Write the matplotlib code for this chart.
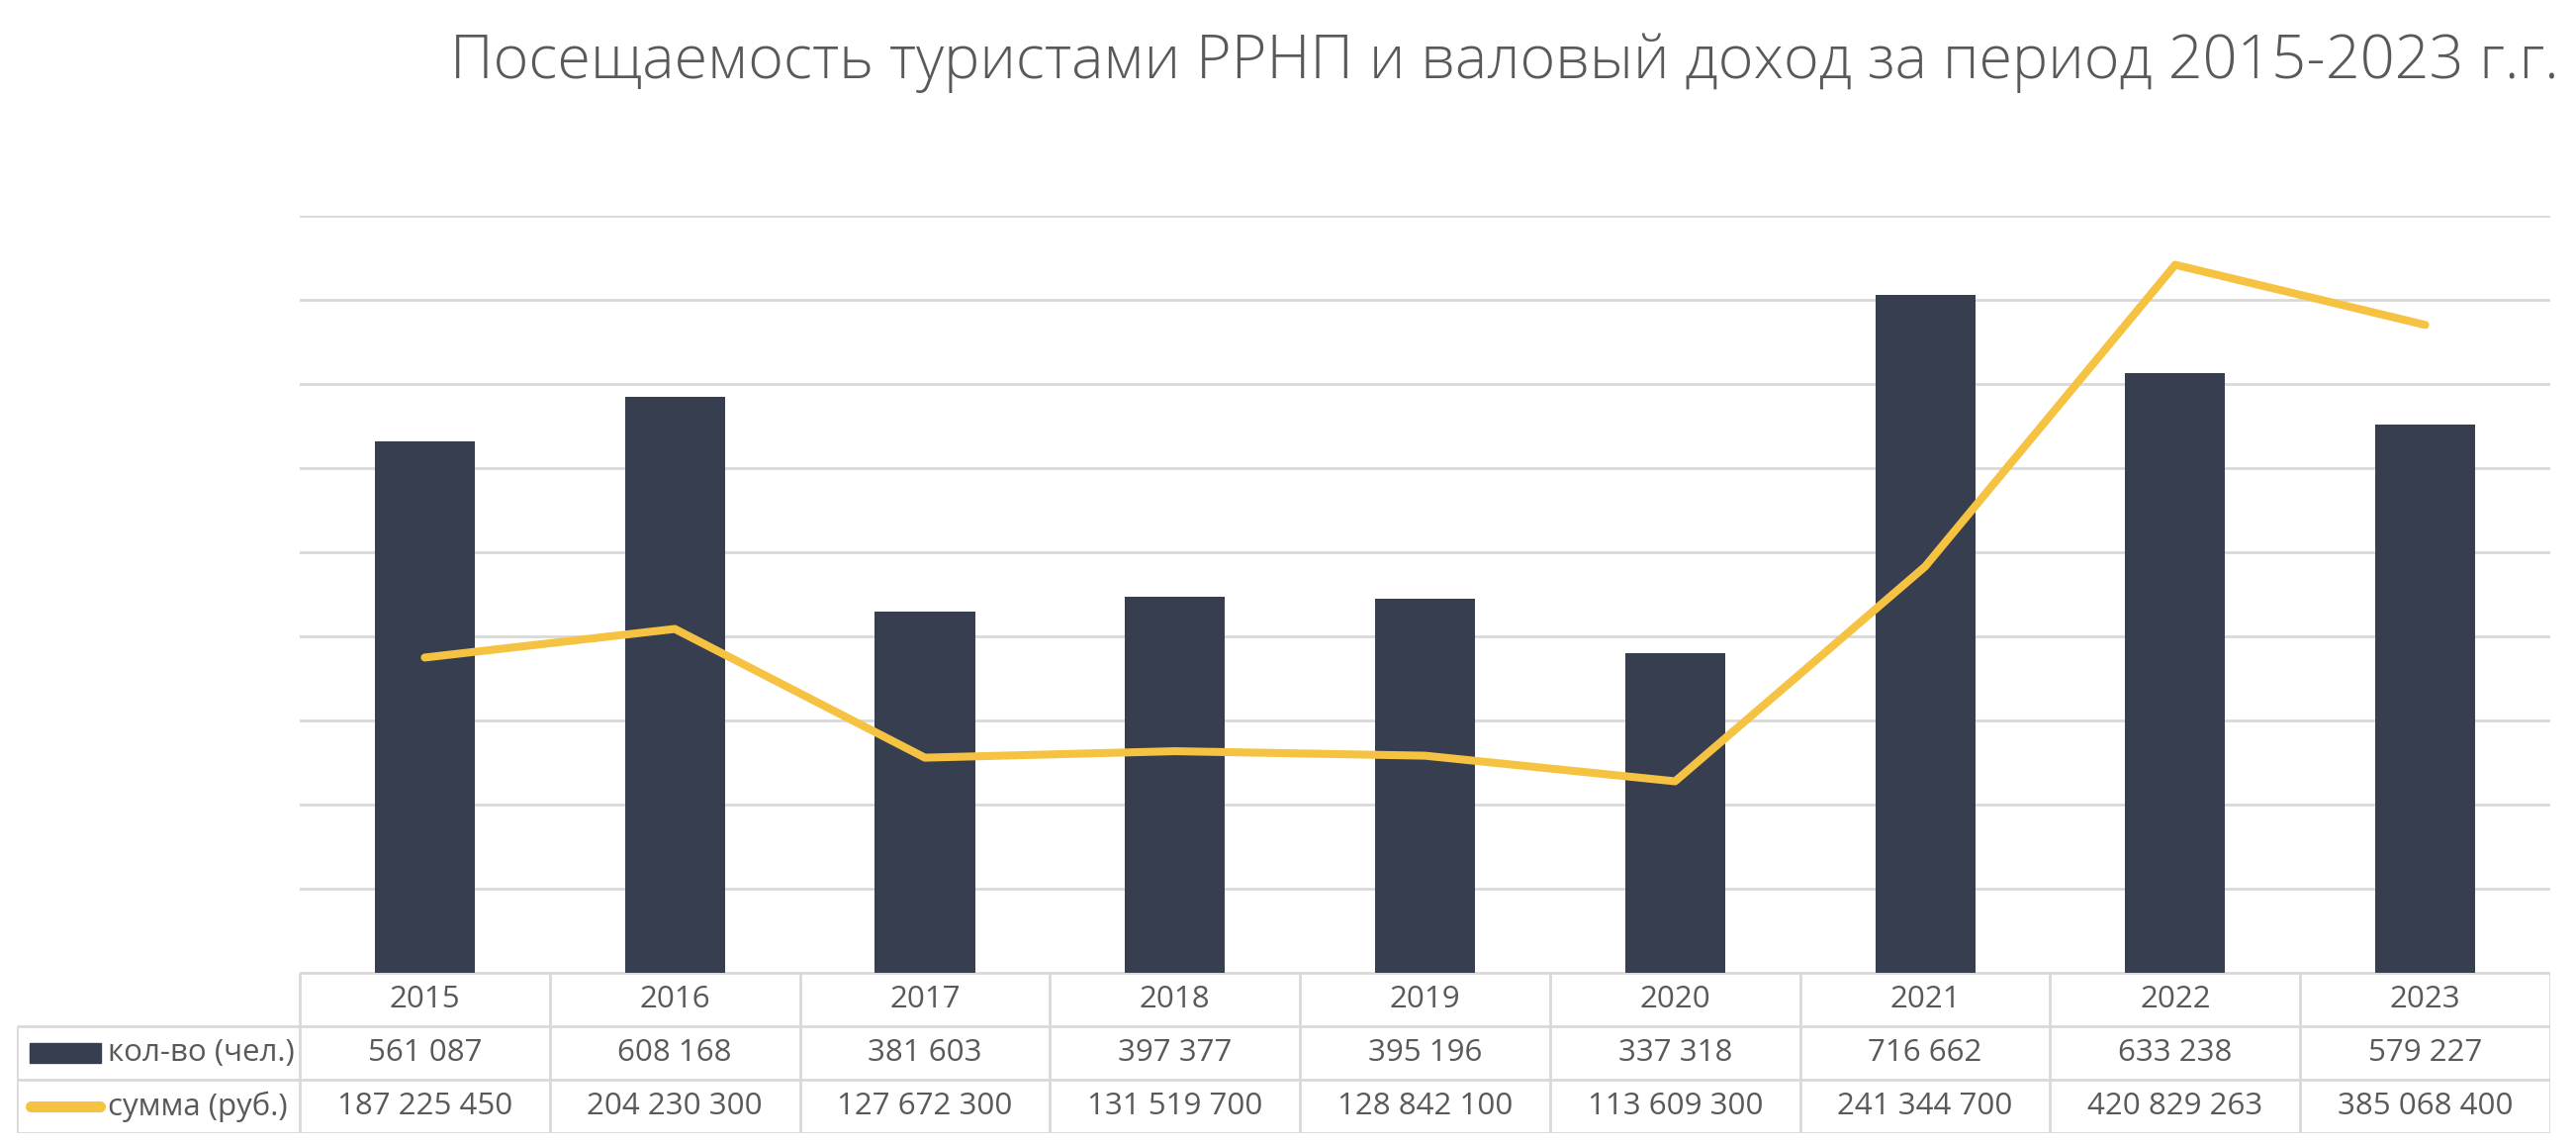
import matplotlib
matplotlib.use("Agg")
from matplotlib import pyplot as plt
from matplotlib.patches import Rectangle
from matplotlib.lines import Line2D
import numpy as np

plt.rcParams['font.family'] = ['Open Sans', 'DejaVu Sans']

# data
years = ['2015', '2016', '2017', '2018', '2019', '2020', '2021', '2022', '2023']
visitors = [561087, 608168, 381603, 397377, 395196, 337318, 716662, 633238, 579227]
revenue = [187225450, 204230300, 127672300, 131519700, 128842100, 113609300,
           241344700, 420829263, 385068400]
row_names = ['кол-во (чел.)', 'сумма (руб.)']
title = 'Посещаемость туристами РРНП и валовый доход за период 2015-2023 г.г.'

bar_color = '#363E50'
line_color = '#F5C242'
grid_color = '#D9D9D9'
text_color = '#595959'

W, H = 2604, 1158
fig = plt.figure(figsize=(W / 100, H / 100), dpi=100)

# plot area in pixels
left_px, right_px = 303, 2578
top_px, base_px = 218, 982.5
rect = [left_px / W, (H - base_px) / H, (right_px - left_px) / W, (base_px - top_px) / H]

x = np.arange(len(years))

# bottom layer: gridlines from the secondary (revenue) scale
ax_grid = fig.add_axes(rect)
ax_grid.set_xlim(-0.5, len(years) - 0.5)
ax_grid.set_ylim(0, 450000000)
ax_grid.set_yticks(np.arange(0, 450000001, 50000000))
ax_grid.yaxis.grid(True, color=grid_color, linewidth=2)
for s in ax_grid.spines.values():
    s.set_visible(False)

# bars on primary scale
ax_bar = ax_grid.twinx()
ax_bar.set_ylim(0, 800000)
ax_bar.bar(x, visitors, width=0.4, color=bar_color)

# line on secondary scale
ax_line = ax_grid.twinx()
ax_line.set_ylim(0, 450000000)
ax_line.plot(x, revenue, color=line_color, linewidth=5.8,
             solid_capstyle='round', solid_joinstyle='round')

# hide all ticks and frames (after twinx, which turns left ticks back on)
for a in (ax_grid, ax_bar, ax_line):
    a.tick_params(left=False, right=False, bottom=False, top=False,
                  labelleft=False, labelright=False, labelbottom=False)
    for s in a.spines.values():
        s.set_visible(False)

# title
fig.text(2587 / W, 1 - 63 / H, title, ha='right', va='center',
         fontsize=44, color=text_color, fontweight='light')

# data table under the chart
tab_left_px, tab_top_px, tab_bot_px = 17, 983, 1145
col_px = (right_px - left_px) / len(years)
xleft = -0.5 - (left_px - tab_left_px) / col_px
tab = fig.add_axes([tab_left_px / W, (H - tab_bot_px) / H,
                    (right_px - tab_left_px) / W, (tab_bot_px - tab_top_px) / H])
tab.set_xlim(xleft, len(years) - 0.5)
tab.set_ylim(3, 0)
tab.axis('off')

lw = 2
tab.hlines(0, -0.5, len(years) - 0.5, color=grid_color, linewidth=lw)
tab.hlines([1, 2, 3], xleft, len(years) - 0.5, color=grid_color, linewidth=lw)
tab.vlines(np.arange(len(years) + 1) - 0.5, 0, 3, color=grid_color, linewidth=lw)
tab.vlines(xleft, 1, 3, color=grid_color, linewidth=lw)

fs = 22.5
for i in range(len(years)):
    tab.text(x[i], 0.5, years[i], ha='center', va='center', fontsize=fs, color=text_color)
    tab.text(x[i], 1.5, f"{visitors[i]:,}".replace(',', ' '), ha='center', va='center',
             fontsize=fs, color=text_color)
    tab.text(x[i], 2.5, f"{revenue[i]:,}".replace(',', ' '), ha='center', va='center',
             fontsize=fs, color=text_color)

# legend keys in the row headers
u = 1 / col_px
tab.add_patch(Rectangle((xleft + 13 * u, 1.5 - 0.18), 72 * u, 0.36, color=bar_color))
tab.add_line(Line2D([xleft + 14 * u, xleft + 84 * u], [2.5, 2.5], color=line_color,
                    linewidth=8, solid_capstyle='round'))
tab.text(xleft + 92 * u, 1.5, row_names[0], ha='left', va='center', fontsize=fs, color=text_color)
tab.text(xleft + 92 * u, 2.5, row_names[1], ha='left', va='center', fontsize=fs, color=text_color)

plt.savefig("out.png", dpi=100)
